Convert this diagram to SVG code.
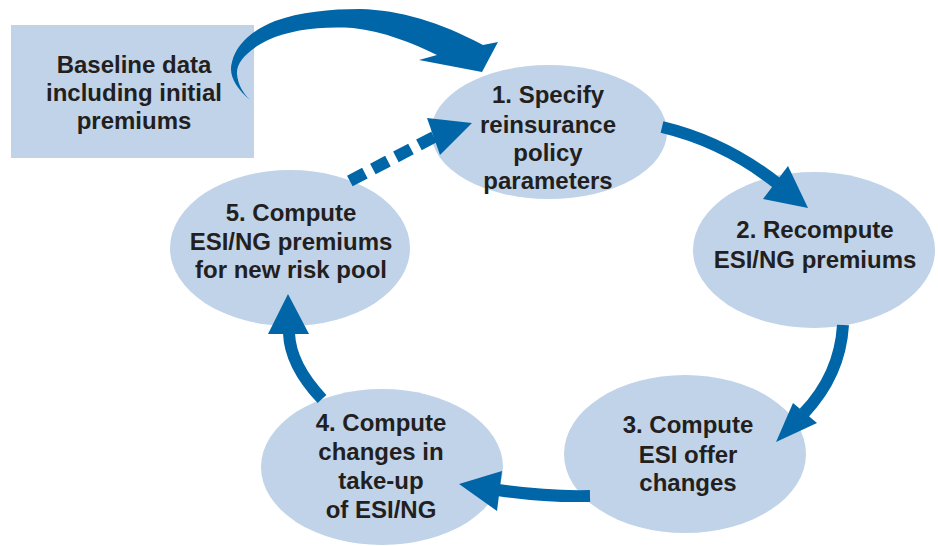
<svg xmlns="http://www.w3.org/2000/svg" width="938" height="546" viewBox="0 0 938 546">
<style>
.node{fill:#c0d3e8;}
.t{font-family:"Liberation Sans",Arial,sans-serif;font-weight:bold;font-size:24px;fill:#231f20;text-anchor:middle;}
.ln{fill:none;stroke:#0066a7;stroke-width:12;}
.hd{fill:#0066a7;}
</style>
<rect width="938" height="546" fill="#ffffff"/>
<g id="baseline">
<rect class="node" x="11" y="25" width="243" height="133"/>
<text class="t" x="134" y="73">Baseline data</text>
<text class="t" x="134" y="101">including initial</text>
<text class="t" x="134" y="129">premiums</text>
</g>
<g id="step1">
<ellipse class="node" cx="549" cy="132" rx="118" ry="67"/>
<text class="t" x="548" y="103">1. Specify</text>
<text class="t" x="548" y="133">reinsurance</text>
<text class="t" x="548" y="161">policy</text>
<text class="t" x="548" y="189">parameters</text>
</g>
<g id="step2">
<ellipse class="node" cx="814" cy="250" rx="121" ry="78"/>
<text class="t" x="815" y="238">2. Recompute</text>
<text class="t" x="815" y="268">ESI/NG premiums</text>
</g>
<g id="step3">
<ellipse class="node" cx="685" cy="454" rx="121" ry="79"/>
<text class="t" x="688" y="433">3. Compute</text>
<text class="t" x="688" y="463">ESI offer</text>
<text class="t" x="688" y="491">changes</text>
</g>
<g id="step4">
<ellipse class="node" cx="382" cy="467" rx="121" ry="78"/>
<text class="t" x="381" y="431">4. Compute</text>
<text class="t" x="381" y="460">changes in</text>
<text class="t" x="381" y="489">take-up</text>
<text class="t" x="381" y="518">of ESI/NG</text>
</g>
<g id="step5">
<ellipse class="node" cx="290" cy="248" rx="120" ry="78"/>
<text class="t" x="291" y="221">5. Compute</text>
<text class="t" x="291" y="250">ESI/NG premiums</text>
<text class="t" x="291" y="278">for new risk pool</text>
</g>
<g id="connectors">
<path class="hd" d="M250,100 C236,88 228,75 232,62 C236,45 252,30 275,21 C300,12 330,9 360,9 C400,10 440,22 483,45 L498,42 L482,72 L419,60 L437,55 C410,42 385,32 353,28 C320,26 290,30 268,40 C248,50 236,62 237,74 C238,85 243,93 250,100 Z"/>
<path class="ln" d="M662,127 Q725,142 778,184"/>
<polygon class="hd" points="763,199 788,166 808,208"/>
<path class="ln" d="M843,325 Q840,375 804,413"/>
<polygon class="hd" points="793,403 817,423 776,442"/>
<path class="ln" d="M590,496 Q545,497 498,490"/>
<polygon class="hd" points="502,471 497,511 459,484"/>
<path class="ln" d="M322,399 Q290,365 289,333"/>
<polygon class="hd" points="268,334 309,334 288,294"/>
<path class="ln" d="M434,137 L348,182" stroke-dasharray="17 9"/>
<polygon class="hd" points="427,118 472,123 440,155"/>
</g>
</svg>
